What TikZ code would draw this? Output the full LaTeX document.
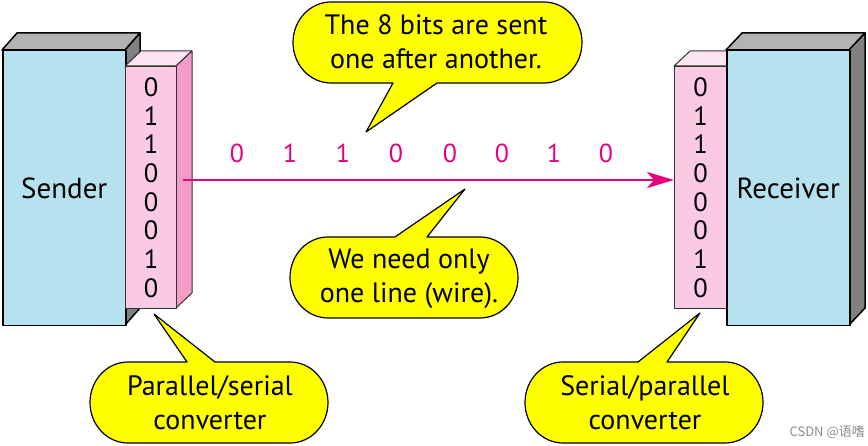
\documentclass[tikz,border=0pt]{standalone}
\usepackage{fontspec}
\setmainfont{PT Sans}
\newfontfamily\cjkfont{Noto Sans CJK SC}
\usetikzlibrary{arrows.meta}
\definecolor{boxblue}{RGB}{181,226,238}
\definecolor{boxtop}{RGB}{179,179,179}
\definecolor{boxside}{RGB}{128,128,128}
\definecolor{pinkfront}{RGB}{250,202,228}
\definecolor{pinktop}{RGB}{252,228,240}
\definecolor{pinkside}{RGB}{245,155,200}
\definecolor{wire}{RGB}{230,0,126}
\definecolor{bubbleyellow}{RGB}{255,255,0}
\begin{document}
\begin{tikzpicture}[x=1pt,y=-1pt,
  face/.style={draw=black,line width=1.5pt,line join=round},
  pface/.style={draw=black!80,line width=1pt,line join=round},
  boxfront/.style={face,fill=boxblue,minimum width=123pt,minimum height=275pt,inner sep=0pt,anchor=north west,font=\fontsize{29}{32}\selectfont},
  convfront/.style={pface,fill=pinkfront,minimum width=51pt,minimum height=242pt,inner sep=0pt,anchor=north west,align=center,font=\fontsize{26.5}{28.7}\selectfont},
  bubblepath/.style={fill=bubbleyellow,draw=black,line width=1.2pt,line join=round},
  callout/.style={align=center,inner sep=0pt,font=\fontsize{28}{34}\selectfont},
  bit/.style={text=wire,inner sep=0pt,font=\fontsize{26}{28}\selectfont},
  wirearrow/.style={draw=wire,line width=2pt,-{Stealth[length=27pt,width=16pt,inset=7pt]}}]
\useasboundingbox (0,0) rectangle (868,446);
% Sender box
\path[face,fill=boxtop] (2,50) -- (17,33) -- (140,33) -- (125,50) -- cycle;
\path[face,fill=boxside] (125,50) -- (140,33) -- (140,308) -- (125,325) -- cycle;
\node[boxfront] (sender) at (2,50) {Sender};
% left converter
\path[pface,fill=pinktop] (125,66) -- (141,51) -- (192,51) -- (176,66) -- cycle;
\path[pface,fill=pinkside] (176,66) -- (192,51) -- (192,293) -- (176,308) -- cycle;
\node[convfront] (lconv) at (125,66) {0\\1\\1\\0\\0\\0\\1\\0};
% right converter
\path[pface,fill=pinktop] (674,66) -- (690,51) -- (742,51) -- (726,66) -- cycle;
\node[convfront,minimum width=52pt] (rconv) at (674,66) {0\\1\\1\\0\\0\\0\\1\\0};
% Receiver box
\path[face,fill=boxtop] (726,50) -- (742,33) -- (865,33) -- (849,50) -- cycle;
\path[face,fill=boxside] (849,50) -- (865,33) -- (865,308) -- (849,325) -- cycle;
\node[boxfront] (receiver) at (726,50) {Receiver};
% wire
\coordinate (wstart) at (183,180);
\draw[wirearrow] (wstart) -- (wstart -| rconv.west);
\foreach \x/\b [count=\i] in {237/0,290/1,343/1,396/0,450/0,502/0,554/1,606/0}
  \node[bit] (bit\i) at (\x,153) {\b};
% callout 1
\coordinate (tip1) at (366,132);
\path[bubblepath] (393,83) -- (tip1) -- (437,83) -- (544,83)
  arc[start angle=90,end angle=-90,x radius=38,y radius=40.5] -- (331,2)
  arc[start angle=-90,end angle=-270,x radius=38,y radius=40.5] -- cycle;
\node[callout] (c1) at (436,42) {The 8 bits are sent\\one after another.};
% callout 2
\coordinate (tip2) at (465,189);
\path[bubblepath] (395,237) -- (tip2) -- (427,237) -- (480,237)
  arc[start angle=-90,end angle=90,x radius=38,y radius=40.5] -- (328,318)
  arc[start angle=90,end angle=270,x radius=38,y radius=40.5] -- cycle;
\node[callout] (c2) at (409,279) {We need only\\one line (wire).};
% callout 3
\coordinate (tip3) at (154,314);
\path[bubblepath] (187,362) -- (tip3) -- (215,362) -- (290,362)
  arc[start angle=-90,end angle=90,x radius=38,y radius=40.5] -- (128,443)
  arc[start angle=90,end angle=270,x radius=38,y radius=40.5] -- cycle;
\node[callout] (c3) at (210,403) {Parallel/serial\\converter};
% callout 4
\coordinate (tip4) at (700,313);
\path[bubblepath] (638,362) -- (tip4) -- (667,362) -- (725,362)
  arc[start angle=-90,end angle=90,x radius=38,y radius=40.5] -- (563,443)
  arc[start angle=90,end angle=270,x radius=38,y radius=40.5] -- cycle;
\node[callout] (c4) at (645,403) {Serial/parallel\\converter};
% watermark
\node[text=black!45,inner sep=0pt,anchor=east,font=\cjkfont\fontsize{13}{15}\selectfont] (wm) at (865,432) {CSDN @语嗜};
\end{tikzpicture}
\end{document}
